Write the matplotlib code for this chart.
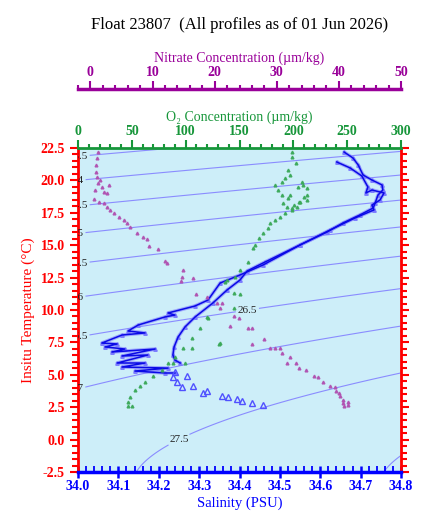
import numpy as np
import matplotlib.pyplot as plt
from matplotlib.ticker import MultipleLocator, FormatStrFormatter

plt.rcParams['font.family'] = ['Liberation Serif', 'DejaVu Serif']
plt.rcParams['font.weight'] = 'bold'

# profile with the big zigzag near 7-9 C
prof1_sal = [34.659, 34.681, 34.694, 34.706, 34.728, 34.753, 34.755, 34.743, 34.736, 34.731,
             34.698, 34.656, 34.617, 34.550, 34.458, 34.401, 34.352, 34.322, 34.290, 34.223,
             34.240, 34.215, 34.149, 34.124, 34.166, 34.109, 34.059, 34.097, 34.067, 34.116,
             34.084, 34.191, 34.109, 34.173, 34.097, 34.166, 34.109, 34.223, 34.141, 34.215,
             34.240]
prof1_temp = [22.19, 21.73, 21.19, 20.42, 20.03, 19.65, 19.26, 18.87, 18.26, 17.87,
              17.33, 16.71, 16.02, 15.02, 13.47, 12.70, 12.08, 10.77, 10.31, 9.77,
              9.61, 9.46, 8.84, 8.38, 8.23, 8.07, 7.45, 7.38, 7.15, 6.99,
              6.76, 6.99, 6.45, 6.53, 5.91, 5.91, 5.60, 5.52, 5.29, 5.14,
              5.14]

# second profile, smoother below the thermocline
prof2_sal = [34.641, 34.674, 34.703, 34.718, 34.713, 34.728, 34.758, 34.748, 34.728, 34.733,
             34.686, 34.624, 34.550, 34.463, 34.419, 34.401, 34.369, 34.334, 34.290, 34.265,
             34.248, 34.238, 34.235, 34.240, 34.253]
prof2_temp = [21.42, 20.96, 20.34, 19.49, 19.03, 19.26, 19.03, 18.49, 18.10, 17.72,
              17.10, 16.17, 15.02, 13.70, 13.01, 12.31, 11.54, 10.54, 9.46, 8.69,
              7.92, 7.15, 6.53, 6.14, 5.91]

# deep bottle-style salinity points
deep_sal = [34.240, 34.235, 34.270, 34.245, 34.258, 34.285, 34.310, 34.320, 34.357, 34.372,
            34.394, 34.406, 34.431, 34.458]
deep_temp = [5.22, 4.83, 4.91, 4.44, 4.06, 4.14, 3.60, 3.75, 3.36, 3.29,
             3.13, 2.98, 2.82, 2.67]

o2_conc = [198.5, 198.5, 202.5, 195.3, 196.9, 192.3, 189.2, 183.0, 207.8, 209.3,
           204.6, 212.4, 213.0, 212.4, 206.2, 203.1, 198.5, 193.8, 190.7, 195.3,
           196.9, 186.0, 189.2, 192.3, 187.6, 183.0, 178.3, 176.7, 172.1, 168.4,
           164.4, 162.8, 158.2, 150.5, 145.8, 138.1, 136.5, 144.9, 150.5, 144.9,
           121.0, 113.3, 105.6, 97.8, 105.6, 90.1, 83.9, 77.7, 69.9, 62.2,
           57.6, 52.9, 48.3, 46.2, 46.7, 49.9, 131.9, 88.5, 99.4, 119.5,
           131.2, 200.5, 210.0, 205.0, 199.0]
o2_temp = [22.21, 21.83, 21.32, 20.80, 20.42, 20.16, 19.90, 19.65, 19.85, 19.65,
           19.51, 19.39, 18.87, 18.49, 18.36, 17.97, 17.72, 17.97, 18.23, 18.62,
           18.87, 19.26, 18.87, 17.46, 17.20, 16.94, 16.69, 16.30, 15.92, 15.53,
           15.02, 14.76, 13.73, 13.09, 12.57, 12.31, 12.18, 11.31, 11.23, 10.15,
           9.36, 8.59, 7.82, 7.05, 7.05, 6.40, 5.90, 5.37, 4.91, 4.47,
           4.14, 3.83, 3.31, 2.92, 2.59, 2.59, 7.43, 5.90, 5.90, 9.44,
           7.35, 18.10, 18.70, 18.30, 17.85]

no3_conc = [1.23, 1.07, 0.96, 0.96, 1.07, 1.17, 1.60, 0.80, 1.88, 2.13,
            2.93, 2.68, 0.53, 1.33, 2.13, 2.68, 3.21, 3.73, 4.54, 5.34,
            5.88, 6.41, 7.48, 8.45, 9.18, 9.50, 10.85, 12.07, 12.39, 14.86,
            14.70, 14.63, 16.46, 16.99, 18.70, 20.30, 20.83, 21.11, 23.08, 23.93,
            22.44, 25.37, 26.01, 25.96, 28.00, 28.85, 29.65, 30.45, 30.88, 32.05,
            31.68, 33.13, 33.54, 34.73, 36.01, 36.59, 37.50, 38.57, 39.42, 39.54,
            40.07, 40.18, 40.59, 40.71, 41.40, 40.87, 41.40]
no3_temp = [22.21, 21.71, 21.19, 20.67, 20.29, 19.82, 20.03, 19.26, 19.51, 19.13,
            19.65, 19.05, 18.54, 18.36, 18.23, 17.97, 17.72, 17.46, 17.20, 16.94,
            16.69, 16.38, 15.92, 15.66, 15.46, 14.94, 14.68, 13.80, 13.65, 13.09,
            12.57, 12.26, 12.45, 11.23, 11.03, 10.52, 10.13, 10.56, 9.54, 9.36,
            8.77, 8.59, 8.59, 7.38, 7.74, 7.05, 7.09, 7.05, 6.66, 6.40,
            5.93, 5.89, 5.50, 5.37, 4.91, 4.85, 4.42, 4.14, 4.04, 3.77,
            3.62, 3.36, 3.06, 2.80, 2.67, 2.59, 2.92]

sigma_levels = np.arange(23.0, 28.01, 0.5)


def sigma_t(S, T):
    # UNESCO 1983 density at surface pressure, minus 1000
    rw = (999.842594 + 6.793952e-2 * T - 9.095290e-3 * T**2 + 1.001685e-4 * T**3
          - 1.120083e-6 * T**4 + 6.536332e-9 * T**5)
    a = 0.824493 - 4.0899e-3 * T + 7.6438e-5 * T**2 - 8.2467e-7 * T**3 + 5.3875e-9 * T**4
    b = -5.72466e-3 + 1.0227e-4 * T - 1.6546e-6 * T**2
    return rw + a * S + b * S**1.5 + 4.8314e-4 * S**2 - 1000.0


RED = '#ff0000'
BLUE = '#0000ff'
GREEN = '#17963a'
PURPLE = '#990099'

fig = plt.figure(figsize=(4.29, 5.30), dpi=100)
ax = fig.add_axes([78 / 429, 1 - 472 / 530, 323 / 429, 324 / 530])
ax.set_facecolor('#cdeef9')
ax.set_xlim(34.0, 34.8)
ax.set_ylim(-2.5, 22.5)

# density contours
ss, tt = np.meshgrid(np.linspace(34.0, 34.8, 200), np.linspace(-2.5, 22.5, 300))
cs = ax.contour(ss, tt, sigma_t(ss, tt), levels=sigma_levels, colors='#8a8cff',
                linewidths=0.8, zorder=1)
tgrid = np.linspace(-2.5, 22.5, 500)
sig_left = sigma_t(34.0, tgrid)
spots = []
for lev in sigma_levels:
    if sig_left.min() <= lev <= sig_left.max():
        spots.append((34.0, np.interp(lev, sig_left[::-1], tgrid[::-1])))
spots += [(34.42, 9.9), (34.25, 0.0)]
labels = ax.clabel(cs, manual=spots, fmt='%g', fontsize=8, colors='#222222', inline=True,
                   inline_spacing=2)
for t in labels:
    t.set_fontweight('normal')
    t.set_rotation(0)
    t.set_clip_on(True)
    t.set_clip_box(ax.bbox)

# salinity
for s, t in [(prof2_sal, prof2_temp), (prof1_sal, prof1_temp)]:
    ax.plot(s, t, color='#8585ff', lw=2.6, alpha=0.65, zorder=3, solid_capstyle='round')
    ax.plot(s, t, '^', ms=2.5, color='#7a7aff', zorder=3)
    ax.plot(s, t, color='#0a0ae6', lw=1.1, zorder=4)
ax.plot(deep_sal, deep_temp, '^', ms=5, mfc='none', mec='#5050ff', mew=1, zorder=4)

# spines and ticks of the main axes
ax.spines['top'].set_visible(False)
ax.spines['left'].set_color(RED)
ax.spines['right'].set_color(RED)
ax.spines['bottom'].set_color(BLUE)
ax.spines['left'].set_linewidth(2)
ax.spines['right'].set_linewidth(2)
ax.spines['bottom'].set_linewidth(2.5)
ax.xaxis.set_major_locator(MultipleLocator(0.1))
ax.xaxis.set_minor_locator(MultipleLocator(0.02))
ax.yaxis.set_major_locator(MultipleLocator(2.5))
ax.yaxis.set_minor_locator(MultipleLocator(0.5))
ax.xaxis.set_major_formatter(FormatStrFormatter('%.1f'))
ax.yaxis.set_major_formatter(FormatStrFormatter('%.1f'))
ax.tick_params(axis='x', which='major', direction='inout', length=8, width=1.8,
               color=BLUE, labelcolor=BLUE, labelsize=10, pad=2)
ax.tick_params(axis='x', which='minor', direction='in', length=4, width=1.3, color=BLUE)
ax.tick_params(axis='y', which='both', left=True, right=True, direction='out',
               color=RED, labelcolor=RED, labelsize=10, width=1.5)
ax.tick_params(axis='y', which='major', length=6)
ax.tick_params(axis='y', which='minor', length=4)
ax.set_xlabel('Salinity (PSU)', color=BLUE, fontsize=10.5, labelpad=2)
ax.set_ylabel('Insitu Temperature (\u00b0C)', color=RED, fontsize=11, labelpad=4)

# oxygen axis (top)
ax2 = ax.twiny()
ax2.set_xlim(0, 300)
for side in ['bottom', 'left', 'right']:
    ax2.spines[side].set_visible(False)
ax2.spines['top'].set_color(GREEN)
ax2.spines['top'].set_linewidth(2)
ax2.xaxis.set_major_locator(MultipleLocator(50))
ax2.xaxis.set_minor_locator(MultipleLocator(10))
ax2.tick_params(axis='x', which='both', direction='out', color=GREEN, labelcolor=GREEN,
                labelsize=10, width=1.5, pad=1)
ax2.tick_params(axis='x', which='major', length=6)
ax2.tick_params(axis='x', which='minor', length=3)
ax2.set_xlabel('O\u2082 Concentration (\u00b5m/kg)', color=GREEN, fontsize=10, labelpad=3)
ax2.plot(o2_conc, o2_temp, '^', ms=2, color='#3aa858', alpha=0.9, zorder=2)

# nitrate axis (offset above)
ax3 = ax.twiny()
ax3.set_xlim(-2, 50)
for side in ['bottom', 'left', 'right']:
    ax3.spines[side].set_visible(False)
ax3.spines['top'].set_position(('outward', 42.5))
ax3.spines['top'].set_color(PURPLE)
ax3.spines['top'].set_linewidth(2.5)
ax3.xaxis.set_major_locator(MultipleLocator(10))
ax3.xaxis.set_minor_locator(MultipleLocator(2))
ax3.tick_params(axis='x', which='both', direction='out', color=PURPLE, labelcolor=PURPLE,
                labelsize=10, width=1.5, pad=1)
ax3.tick_params(axis='x', which='major', length=6)
ax3.tick_params(axis='x', which='minor', length=3)
ax3.set_xlabel('Nitrate Concentration (\u00b5m/kg)', color=PURPLE, fontsize=10, labelpad=3)
ax3.plot(no3_conc, no3_temp, '^', ms=2, color='#b050b0', alpha=0.9, zorder=2)

fig.text(0.5585, 1 - 25 / 530, 'Float 23807  (All profiles as of 01 Jun 2026)',
         ha='center', va='center', fontsize=12, fontweight='normal')

fig.savefig('out.png', dpi=100)
